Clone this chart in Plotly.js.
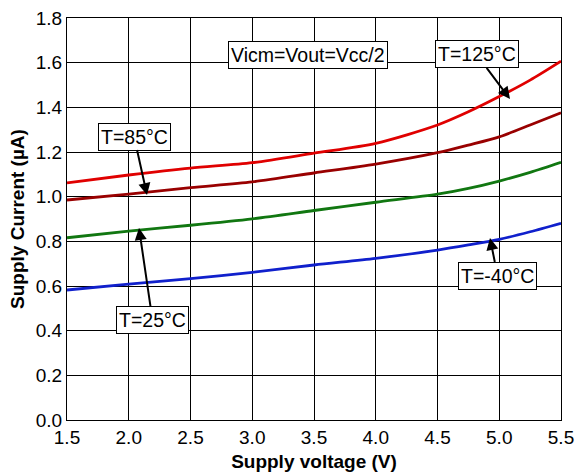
<!DOCTYPE html>
<html>
<head>
<meta charset="utf-8">
<script src="https://cdn.plot.ly/plotly-3.0.1.min.js"></script>
<style>html,body{margin:0;padding:0;background:#fff;}#chart{width:576px;height:476px;}</style>
</head>
<body>
<div id="chart"></div>
<script>
const supplyVoltage = [1.5, 2.0, 2.5, 3.0, 3.5, 4.0, 4.5, 4.75, 5.0, 5.25, 5.5];
const current125 = [1.062, 1.097, 1.128, 1.152, 1.195, 1.239, 1.321, 1.380, 1.448, 1.522, 1.607];
const current85  = [0.985, 1.011, 1.040, 1.066, 1.106, 1.146, 1.197, 1.231, 1.268, 1.321, 1.376];
const current25  = [0.816, 0.846, 0.872, 0.901, 0.938, 0.975, 1.011, 1.037, 1.070, 1.109, 1.154];
const currentM40 = [0.582, 0.608, 0.633, 0.661, 0.694, 0.724, 0.761, 0.784, 0.809, 0.843, 0.881];
const xTicks = [1.5, 2.0, 2.5, 3.0, 3.5, 4.0, 4.5, 5.0, 5.5];
const yTicks = [0, 0.2, 0.4, 0.6, 0.8, 1.0, 1.2, 1.4, 1.6, 1.8];

const font = 'Liberation Sans, Arial, Helvetica, sans-serif';
function line(y, color) {
  return {x: supplyVoltage, y: y, mode: 'lines', type: 'scatter',
    line: {color: color, width: 2.8, shape: 'spline', smoothing: 0.8},
    hoverinfo: 'none', showlegend: false};
}
const traces = [
  line(current125, '#e00000'),
  line(current85, '#990000'),
  line(current25, '#117711'),
  line(currentM40, '#1020cc')
];
function label(text, x, y, ax, ay, arrow) {
  return {text: text, x: x, y: y, ax: ax, ay: ay, xref: 'x', yref: 'y', axref: 'x', ayref: 'y',
    showarrow: arrow, arrowhead: 2, arrowsize: 1.2, arrowwidth: 2, arrowcolor: '#000',
    bgcolor: '#fff', bordercolor: '#000', borderwidth: 1, borderpad: 2,
    font: {family: font, size: 19.5, color: '#000'}};
}
const annotations = [
  {text: 'Vicm=Vout=Vcc/2', x: 3.451, y: 1.634, xref: 'x', yref: 'y', showarrow: false,
   bgcolor: '#fff', bordercolor: '#000', borderwidth: 1, borderpad: 2,
   font: {family: font, size: 19.5, color: '#000'}},
  label('T=125°C', 5.087, 1.437, 4.816, 1.637, true),
  label('T=85°C', 2.148, 1.007, 2.043, 1.269, true),
  label('T=25°C', 2.083, 0.860, 2.192, 0.448, true),
  label('T=-40°C', 4.925, 0.815, 4.986, 0.647, true)
];
const layout = {
  width: 576, height: 476,
  margin: {l: 67, r: 15, t: 18, b: 56},
  paper_bgcolor: '#fff', plot_bgcolor: '#fff',
  xaxis: {range: [1.5, 5.5], tickvals: xTicks, ticktext: xTicks.map(v => v.toFixed(1)),
    showgrid: true, gridcolor: '#000', gridwidth: 1, zeroline: false,
    showline: true, linecolor: '#000', linewidth: 1, mirror: true, ticks: '',
    tickfont: {family: font, size: 19, color: '#000'},
    title: {text: '<b>Supply voltage (V)</b>', font: {family: font, size: 19, color: '#000'}, standoff: 7}},
  yaxis: {range: [0, 1.8], tickvals: yTicks, ticktext: yTicks.map(v => v.toFixed(1)),
    showgrid: true, gridcolor: '#000', gridwidth: 1, zeroline: false,
    showline: true, linecolor: '#000', linewidth: 1, mirror: true, ticks: '',
    tickfont: {family: font, size: 19, color: '#000'},
    title: {text: '<b>Supply Current (µA)</b>', font: {family: font, size: 19, color: '#000'}, standoff: 6}},
  annotations: annotations
};
Plotly.newPlot('chart', traces, layout, {staticPlot: true, displayModeBar: false});
</script>
</body>
</html>
